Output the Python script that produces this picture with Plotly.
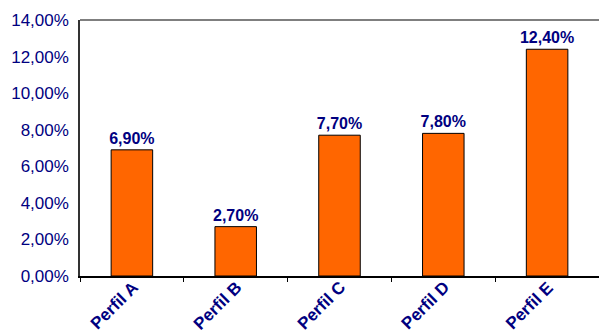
import plotly.graph_objects as go

categories = ["Perfil A", "Perfil B", "Perfil C", "Perfil D", "Perfil E"]
values = [6.90, 2.70, 7.70, 7.80, 12.40]
y_ticks = [0, 2, 4, 6, 8, 10, 12, 14]

navy = "#000080"
font_family = "Arial, Liberation Sans, sans-serif"


def pct_label(v):
    return f"{v:.2f}%".replace(".", ",")


fig = go.Figure(
    go.Bar(
        x=categories,
        y=values,
        width=0.4,
        marker=dict(color="#FF6600", line=dict(color="#000000", width=1)),
        text=[pct_label(v) for v in values],
        textposition="outside",
        constraintext="none",
        cliponaxis=False,
        textfont=dict(family=font_family, size=16, color=navy, weight="bold"),
    )
)

fig.update_layout(
    width=599,
    height=333,
    margin=dict(l=80, r=0, t=20, b=57),
    plot_bgcolor="white",
    paper_bgcolor="white",
    showlegend=False,
    bargap=0.6,
    font=dict(family=font_family, color=navy),
)

fig.update_xaxes(
    automargin=False,
    showline=True,
    linecolor="#000000",
    linewidth=1.5,
    ticks="outside",
    tickson="boundaries",
    ticklen=4,
    tickcolor="#000000",
    showticklabels=False,
    showgrid=False,
)

fig.update_yaxes(
    automargin=False,
    range=[0, 14],
    tickvals=y_ticks,
    ticktext=[pct_label(v) for v in y_ticks],
    tickfont=dict(family=font_family, size=17, color=navy),
    showline=True,
    linecolor="#333333",
    linewidth=1.5,
    showgrid=False,
    zeroline=False,
    ticks="",
    ticklabelstandoff=6,
)

# slanted category labels hanging under the axis
for cat in categories:
    fig.add_annotation(
        x=cat, y=0, xref="x", yref="paper",
        text=f"<b>{cat}</b>",
        textangle=-45,
        showarrow=False,
        xanchor="right", yanchor="top",
        xshift=13, yshift=1,
        font=dict(family=font_family, size=17, color=navy),
    )

# top border of the plot frame
fig.add_shape(
    type="line", xref="paper", yref="paper",
    x0=0, x1=1, y0=1, y1=1,
    line=dict(color="#555555", width=1.5),
)

fig.write_html("out.html")
